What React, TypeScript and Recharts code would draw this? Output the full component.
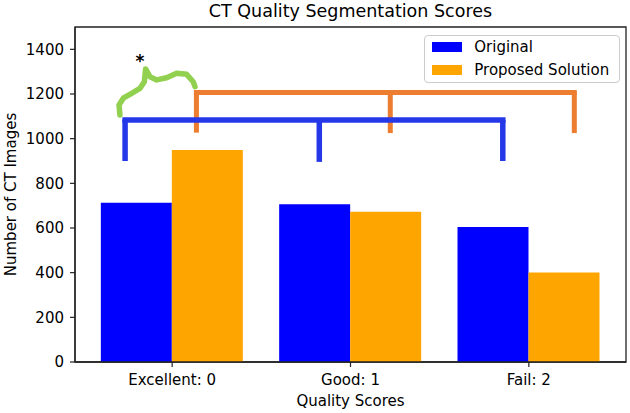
import {
  ComposedChart,
  Bar,
  Line,
  XAxis,
  YAxis,
  ReferenceLine,
  ReferenceDot,
  ReferenceArea,
  Legend,
} from 'recharts'

const FONT = '"DejaVu Sans", Verdana, sans-serif'
const INK = '#000000'
const SPINE = '#222222'

const categories = ['Excellent: 0', 'Good: 1', 'Fail: 2']
const originalCounts = [713, 706, 605]
const proposedCounts = [949, 673, 401]
const yTicks = [0, 200, 400, 600, 800, 1000, 1200, 1400]

// comparison brackets, x in category-index units (0 = Excellent, 1 = Good, 2 = Fail)
const blueBracketX = [-0.264, 0.825, 1.854]
const blueBracketBottom = [900, 896, 900]
const blueBracketTop = 1084
const orangeBracketX = [0.136, 1.223, 2.255]
const orangeBracketBottom = [1027, 1025, 1025]
const orangeBracketTop = 1207

// hand-drawn curly brace + significance star
const braceX = [-0.293, -0.298, -0.274, -0.227, -0.181, -0.156, -0.149, -0.124, -0.087, -0.031, 0.025, 0.081, 0.118, 0.128]
const braceY = [1106, 1151, 1181, 1203, 1225, 1255, 1312, 1277, 1263, 1273, 1293, 1288, 1255, 1233]
const starX = -0.181
const starY = 1348

const rows = categories.map((cat, i) => ({
  cat,
  original: originalCounts[i],
  proposed: proposedCounts[i],
}))

const braceData = braceX.map((bx, i) => ({ bx, by: braceY[i] }))

// layout
const WIDTH = 630
const HEIGHT = 413
const MARGIN = { top: 27, right: 4, bottom: 0, left: 5 }
const Y_AXIS_W = 70
const CAT_PAD = 8
const plotWidth = WIDTH - MARGIN.left - MARGIN.right - Y_AXIS_W
const band = (plotWidth - 2 * CAT_PAD) / categories.length
const edge = 0.5 + CAT_PAD / band
const numDomain = [-edge, categories.length - 1 + edge]

function bracketLines(xs: number[], bottoms: number[], top: number, color: string, width: number, key: string) {
  const lines = [
    <ReferenceLine
      key={`${key}-h`}
      xAxisId="num"
      segment={[
        { x: xs[0], y: top },
        { x: xs[xs.length - 1], y: top },
      ]}
      stroke={color}
      strokeWidth={width}
      strokeLinecap="square"
    />,
  ]
  xs.forEach((x, i) => {
    lines.push(
      <ReferenceLine
        key={`${key}-v${i}`}
        xAxisId="num"
        segment={[
          { x, y: top },
          { x, y: bottoms[i] },
        ]}
        stroke={color}
        strokeWidth={width}
      />
    )
  })
  return lines
}

function ScoreLegend({ payload }: any) {
  const items = (payload || []).filter((e: any) => e.type !== 'none')
  return (
    <div
      style={{
        position: 'relative',
        boxSizing: 'border-box',
        width: 196,
        height: 48,
        border: '1px solid #cccccc',
        borderRadius: 4,
        background: 'rgba(255,255,255,0.8)',
        fontFamily: FONT,
        fontSize: 15,
        color: INK,
      }}
    >
      {items.map((entry: any, index: number) => (
        <div
          key={index}
          style={{
            position: 'absolute',
            left: 0,
            top: 11.3 + index * 22.7 - 9,
            height: 18,
            display: 'flex',
            alignItems: 'center',
            whiteSpace: 'nowrap',
          }}
        >
          <span
            style={{
              display: 'inline-block',
              marginLeft: 6.7,
              width: 30.6,
              height: 10,
              backgroundColor: entry.color,
            }}
          />
          <span style={{ marginLeft: 12, lineHeight: '18px' }}>{entry.value}</span>
        </div>
      ))}
    </div>
  )
}

export default function App() {
  const tickStyle = { fill: INK, fontSize: 15, fontFamily: FONT }
  return (
    <div style={{ position: 'absolute', left: 0, top: 0, width: WIDTH, height: HEIGHT, background: '#fff' }}>
      <div
        style={{
          position: 'absolute',
          left: MARGIN.left + Y_AXIS_W,
          width: plotWidth,
          top: 3.2,
          textAlign: 'center',
          fontFamily: FONT,
          fontSize: 17.5,
          lineHeight: '17.5px',
          color: INK,
          whiteSpace: 'nowrap',
        }}
      >
        CT Quality Segmentation Scores
      </div>
      <ComposedChart
        width={WIDTH}
        height={HEIGHT}
        data={rows}
        margin={MARGIN}
        barCategoryGap="10%"
        barGap={0}
      >
        <XAxis
          dataKey="cat"
          padding={{ left: CAT_PAD, right: CAT_PAD }}
          height={51}
          interval={0}
          tickSize={5}
          tickMargin={7}
          tick={tickStyle}
          axisLine={{ stroke: SPINE, strokeWidth: 1.3 }}
          tickLine={{ stroke: SPINE, strokeWidth: 1.2 }}
          label={{
            value: 'Quality Scores',
            position: 'insideBottom',
            offset: 7,
            fontSize: 15,
            fill: INK,
            fontFamily: FONT,
          }}
        />
        <XAxis
          xAxisId="num"
          type="number"
          dataKey="bx"
          domain={numDomain}
          allowDataOverflow
          hide
        />
        <YAxis
          domain={[0, 1500]}
          ticks={yTicks}
          width={Y_AXIS_W}
          tickSize={5}
          tickMargin={6}
          tick={tickStyle}
          axisLine={{ stroke: SPINE, strokeWidth: 1.3 }}
          tickLine={{ stroke: SPINE, strokeWidth: 1.2 }}
          label={{
            value: 'Number of CT Images',
            angle: -90,
            position: 'insideLeft',
            offset: 6,
            fontSize: 15,
            fill: INK,
            fontFamily: FONT,
            style: { textAnchor: 'middle' },
          }}
        />
        {/* plot frame (top/right spines) */}
        <ReferenceArea
          xAxisId="num"
          x1={numDomain[0]}
          x2={numDomain[1]}
          y1={0}
          y2={1500}
          ifOverflow="visible"
          fill="none"
          fillOpacity={0}
          stroke={SPINE}
          strokeWidth={1.3}
          strokeOpacity={1}
        />
        <Bar dataKey="original" name="Original" fill="#0000FF" isAnimationActive={false} />
        <Bar dataKey="proposed" name="Proposed Solution" fill="#FFA500" isAnimationActive={false} />
        {bracketLines(orangeBracketX, orangeBracketBottom, orangeBracketTop, '#ED7D31', 5, 'orange')}
        {bracketLines(blueBracketX, blueBracketBottom, blueBracketTop, '#2438E8', 5.5, 'blue')}
        <Line
          xAxisId="num"
          data={braceData}
          dataKey="by"
          type="linear"
          stroke="#92D050"
          strokeWidth={5.5}
          strokeLinejoin="round"
          strokeLinecap="round"
          dot={false}
          activeDot={false}
          legendType="none"
          isAnimationActive={false}
        />
        <ReferenceDot
          xAxisId="num"
          x={starX}
          y={starY}
          r={0}
          fill="none"
          stroke="none"
          label={{
            value: '*',
            position: 'center',
            fontSize: 17,
            fontWeight: 'bold',
            fill: INK,
            fontFamily: FONT,
          }}
        />
        <Legend
          content={<ScoreLegend />}
          layout="vertical"
          verticalAlign="middle"
          align="center"
          wrapperStyle={{ top: 35, left: 424, width: 196, height: 48 }}
        />
      </ComposedChart>
    </div>
  )
}
